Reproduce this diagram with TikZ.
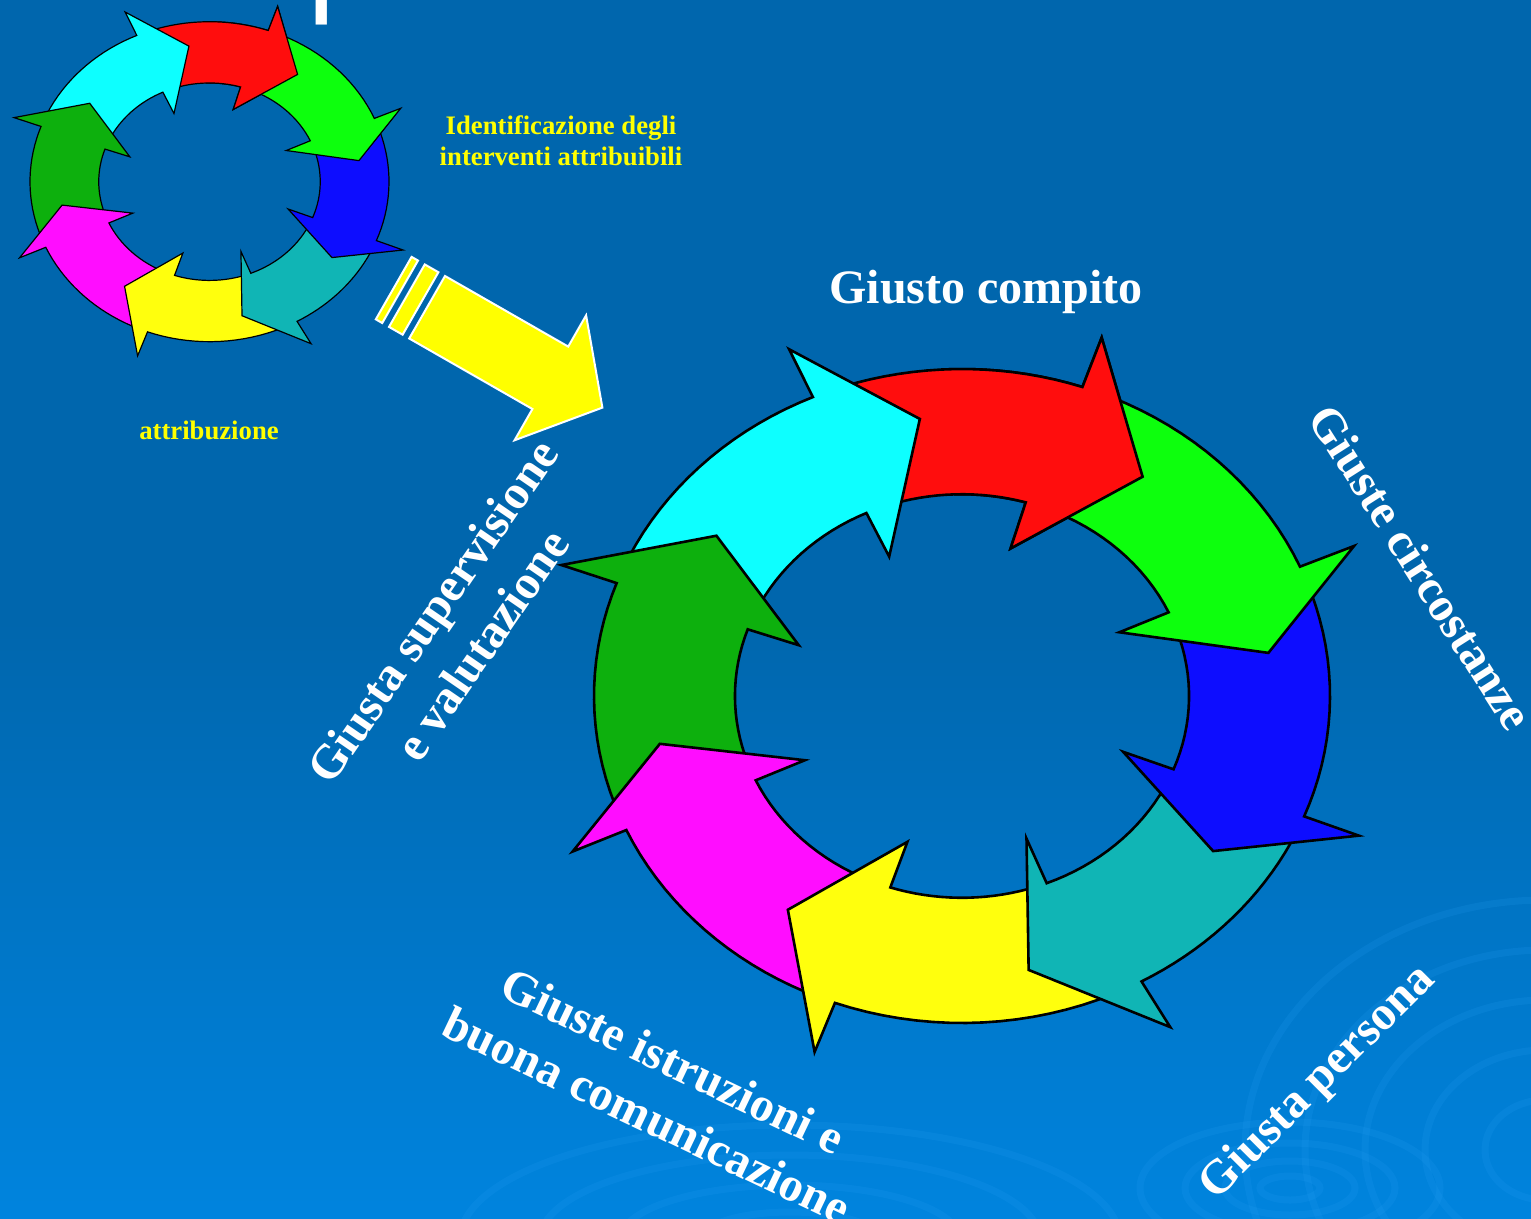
\documentclass[tikz,border=0pt]{standalone}
\usepackage{fontspec}
\setmainfont{Liberation Serif}
\newfontfamily\titlefont{Liberation Sans}
\definecolor{bgtop}{RGB}{0,102,173}
\definecolor{bgbot}{RGB}{0,132,222}
\definecolor{ripplecol}{RGB}{40,160,245}
\definecolor{acyan}{RGB}{13,255,255}
\definecolor{ared}{RGB}{255,13,13}
\definecolor{agreen}{RGB}{13,255,13}
\definecolor{ablue}{RGB}{13,13,255}
\definecolor{ateal}{RGB}{16,181,181}
\definecolor{ayellow}{RGB}{255,255,13}
\definecolor{amagenta}{RGB}{255,13,255}
\definecolor{adkgreen}{RGB}{13,176,13}
\definecolor{bigyellow}{RGB}{255,255,0}
\definecolor{labelyellow}{RGB}{255,255,0}
% current cycle: centre, radii, line width
\newcommand\setcycle[5]{\def\cycX{#1}\def\cycY{#2}\def\cycRX{#3}\def\cycRY{#4}\def\cycLW{#5}}
% #1 tail outer, #2 tail inner, #3 base outer, #4 base inner, #5 tip angle, #6 tip radius, #7 colour
\newcommand\ringarrow[7]{%
  \filldraw[fill=#7, draw=black, line width=\cycLW, line join=miter]
    plot[domain=(#1):(#3), samples=18] ({\cycX+\cycRX*cos(\x)},{\cycY+\cycRY*sin(\x)})
    -- ({\cycX+1.16*\cycRX*cos(#3)},{\cycY+1.16*\cycRY*sin(#3)})
    -- ({\cycX+#6*\cycRX*cos(#5)},{\cycY+#6*\cycRY*sin(#5)})
    -- ({\cycX+0.47*\cycRX*cos(#4)},{\cycY+0.47*\cycRY*sin(#4)})
    -- plot[domain=(#4):(#2), samples=18] ({\cycX+0.617*\cycRX*cos(\x)},{\cycY+0.617*\cycRY*sin(\x)})
    -- cycle;}
\newcommand\redarrow{\ringarrow{251.1}{248.1}{289.1}{286.3}{306.2}{0.831}{ared}}
\newcommand\wholecycle{%
  \redarrow
  \ringarrow{205.2}{202.3}{246.1}{245.1}{262.3}{0.855}{acyan}
  \ringarrow{160.8}{158.3}{200.2}{199.3}{216.3}{0.828}{adkgreen}
  \ringarrow{115.2}{111.4}{155.8}{155.3}{169.9}{0.834}{amagenta}
  \ringarrow{65.8}{71.1}{110.2}{108.4}{125.9}{0.807}{ayellow}
  \ringarrow{26.6}{24.3}{60.8}{68.1}{77.8}{0.857}{ateal}
  \ringarrow{-18.3}{-21.5}{21.6}{21.3}{34.8}{0.831}{ablue}
  \ringarrow{294.1}{289.3}{336.7}{335.5}{351}{0.843}{agreen}
  \begin{scope}
    \clip (\cycX,\cycY) -- ({\cycX+2*\cycRX*cos(268)},{\cycY+2*\cycRY*sin(268)})
      -- ({\cycX+2*\cycRX*cos(292)},{\cycY+2*\cycRY*sin(292)})
      -- ({\cycX+2*\cycRX*cos(316)},{\cycY+2*\cycRY*sin(316)}) -- cycle;
    \redarrow
  \end{scope}}
\begin{document}
\begin{tikzpicture}[x=1pt,y=-1pt,
  bigtext/.style={text=white, font=\fontsize{48}{60}\selectfont\bfseries, inner sep=0pt, align=center},
  smalltext/.style={text=labelyellow, font=\fontsize{26.7}{31}\selectfont\bfseries, inner sep=0pt},
  ripple/.style={draw=ripplecol, opacity=0.16, line width=7pt},
  bandarrow/.style={fill=bigyellow, draw=white, line width=2pt, line join=miter}]
\useasboundingbox (0,0) rectangle (1531,1218);
\clip (0,0) rectangle (1531,1218);
% background
\fill[bgtop] (0,0) rectangle (1531,1218);
\shade[top color=bgtop, bottom color=bgbot] (0,620) rectangle (1531,1219);
% ripples
\foreach \a/\b in {30/12, 65/27, 105/45, 150/66}
  \draw[ripple] (1290,1188) ellipse [x radius=\a, y radius=\b];
\foreach \a/\b in {60/50, 120/100, 180/150, 240/200, 300/250}
  \draw[ripple] (1545,1150) ellipse [x radius=\a, y radius=\b];
\foreach \a/\b in {90/28, 170/55, 250/85, 330/115}
  \draw[ripple] (790,1240) ellipse [x radius=\a, y radius=\b];
% cut-off title
\node[anchor=base west, inner sep=0pt, text=white, font=\titlefont\fontsize{128}{150}\selectfont] (title) at (307,-1.5) {processo di attribuzione};
% small cycle
\setcycle{209.5}{181.7}{179.5}{160}{1.2pt}
\wholecycle
% big cycle
\setcycle{962}{696}{368}{327}{2.6pt}
\wholecycle
% big yellow arrow with stripes
\begin{scope}[shift={(445,276)}, rotate=-29.8]
  \filldraw[bandarrow] (0,0) -- (142,0) -- (142,-36) -- (202,36) -- (142,108) -- (142,72) -- (0,72) -- cycle;
  \filldraw[bandarrow] (-23.3,0) rectangle (-7.6,72);
  \filldraw[bandarrow] (-38.5,0) rectangle (-31.1,72);
\end{scope}
% labels
\node[smalltext, anchor=base] (id1) at (561,134) {Identificazione degli};
\node[smalltext, anchor=base] (id2) at (561,165) {interventi attribuibili};
\node[smalltext, anchor=base] (attr) at (209,439) {attribuzione};
\node[bigtext, anchor=base] (compito) at (986,303) {Giusto compito};
\node[bigtext, rotate=55.5] (superv) at (457,628) {Giusta supervisione\\e valutazione};
\node[bigtext, rotate=-57.5] (circ) at (1421,567) {Giuste circostanze};
\node[bigtext, rotate=45] (pers) at (1318,1083) {Giusta persona};
\node[bigtext, rotate=-25.5] (istr) at (660,1088) {Giuste istruzioni e\\buona comunicazione};
\end{tikzpicture}
\end{document}
